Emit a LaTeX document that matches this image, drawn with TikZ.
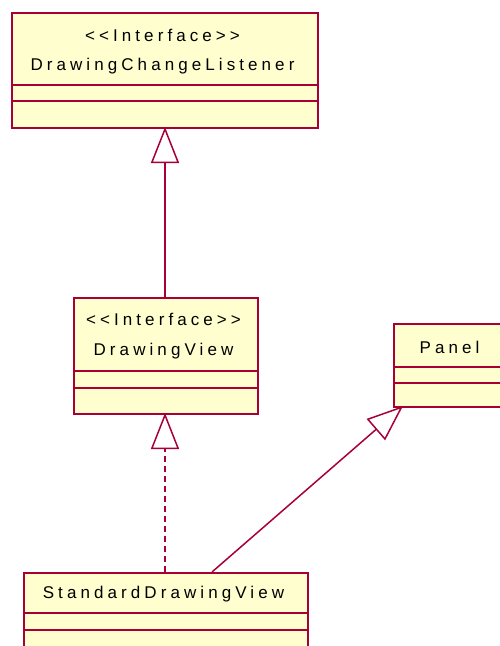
\documentclass[tikz,border=0pt]{standalone}
\usepackage{fontspec}
\setmainfont{Liberation Sans}[LetterSpace=24]
\usetikzlibrary{arrows.meta}
\definecolor{umlborder}{HTML}{A80036}
\definecolor{umlfill}{HTML}{FEFECE}
\tikzset{
  umlbox/.style={draw=umlborder, fill=umlfill, line width=2pt, inner sep=0pt, anchor=north west},
  divider/.style={draw=umlborder, line width=1.5pt},
  lbl/.style={font=\fontsize{17}{17}\selectfont, text=black, inner sep=0pt},
  gen/.style={draw=umlborder, line width=1.5pt, -{Triangle[open, length=36pt, width=28pt, line width=1.5pt]}},
  real/.style={gen, dash pattern=on 6pt off 4pt},
}
\begin{document}
\begin{tikzpicture}[x=1pt, y=-1pt]
\useasboundingbox (0,0) rectangle (500,646);
\begin{scope}
\clip (0,0) rectangle (500,646);
% DrawingChangeListener
\node[umlbox, minimum width=306pt, minimum height=115pt] (dcl) at (11,12) {};
\draw[divider] (11,85) -- (317,85);
\draw[divider] (11,101) -- (317,101);
\node[lbl] (dclst) at (162.5,35.5) {{<}{<}Interface{>}{>}};
\node[lbl] (dclname) at (162.5,66.5) {DrawingChangeListener};
% DrawingView
\node[umlbox, minimum width=184pt, minimum height=116pt] (dv) at (73,297) {};
\draw[divider] (73,371) -- (257,371);
\draw[divider] (73,388) -- (257,388);
\node[lbl] (dvst) at (163.5,319.5) {{<}{<}Interface{>}{>}};
\node[lbl] (dvname) at (163.5,351.5) {DrawingView};
% Panel
\node[umlbox, minimum width=120pt, minimum height=83pt] (panel) at (393,323) {};
\draw[divider] (393,367) -- (513,367);
\draw[divider] (393,383) -- (513,383);
\node[lbl] (panelname) at (449.5,347.5) {Panel};
% StandardDrawingView
\node[umlbox, minimum width=284pt, minimum height=90pt] (sdv) at (23,572) {};
\draw[divider] (23,613) -- (307,613);
\draw[divider] (23,630) -- (307,630);
\node[lbl] (sdvname) at (163.5,594.5) {StandardDrawingView};
% connectors
\coordinate (dvtop) at (165,297);
\coordinate (dclbot) at (165,127);
\coordinate (sdvtop) at (165,572);
\coordinate (dvbot) at (165,413);
\coordinate (sdvtop2) at (212,572);
\coordinate (panelcorner) at (403,406);
\draw[gen] (dvtop) -- (dclbot);
\draw[real] (sdvtop) -- (dvbot);
\draw[gen] (sdvtop2) -- (panelcorner);
\end{scope}
\end{tikzpicture}
\end{document}
